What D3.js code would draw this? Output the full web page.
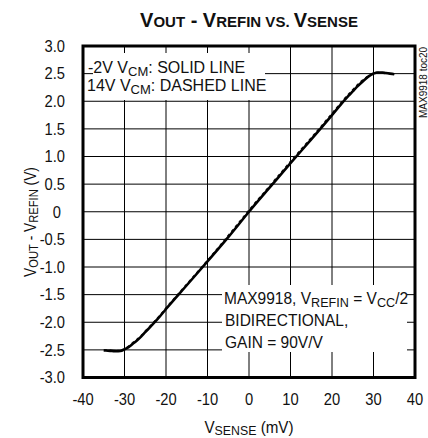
<!DOCTYPE html>
<html><head><meta charset="utf-8">
<script src="https://cdn.jsdelivr.net/npm/d3@7"></script>
<style>
html,body{margin:0;padding:0;background:#fff;}
svg text{font-family:"Liberation Sans",Arial,sans-serif;fill:#111;}
</style></head>
<body><svg id="c" width="428" height="438"></svg>
<script>
// ---- data ----
const xTicks = [-40,-30,-20,-10,0,10,20,30,40];
const yTicks = [3.0,2.5,2.0,1.5,1.0,0.5,0,-0.5,-1.0,-1.5,-2.0,-2.5,-3.0];
const yTickLabels = ["3.0","2.5","2.0","1.5","1.0","0.5","0","-0.5","-1.0","-1.5","-2.0","-2.5","-3.0"];
const vsense = [-35,-34,-33,-32,-31,-30,-29,-28,-27,-26,-25,-24,-22,-20,-15,-10,-5,0,5,10,15,20,22,24,25,26,27,28,29,30,31,32,33,34,35];
const solidM2V = [-2.51,-2.515,-2.52,-2.525,-2.52,-2.49,-2.45,-2.39,-2.33,-2.26,-2.18,-2.10,-1.94,-1.76,-1.33,-0.90,-0.46,0.0,0.44,0.88,1.31,1.75,1.93,2.10,2.18,2.26,2.33,2.40,2.46,2.50,2.52,2.52,2.51,2.50,2.49];
const dashed14V = [-2.50,-2.505,-2.51,-2.515,-2.51,-2.48,-2.43,-2.37,-2.31,-2.24,-2.16,-2.08,-1.92,-1.74,-1.31,-0.88,-0.43,0.03,0.47,0.91,1.34,1.78,1.96,2.13,2.21,2.29,2.36,2.42,2.47,2.51,2.52,2.52,2.51,2.50,2.49];

const svg = d3.select("#c");
const L=83, R=415, T=46, B=377.5;
const x = d3.scaleLinear().domain([-40,40]).range([L,R]);
const y = d3.scaleLinear().domain([-3,3]).range([B,T]);

// grid
const g = svg.append("g");
g.selectAll(".vg").data(xTicks.slice(1,-1)).enter().append("line")
  .attr("x1",d=>x(d)).attr("x2",d=>x(d)).attr("y1",T).attr("y2",B)
  .attr("stroke","#000").attr("stroke-width",1);
g.selectAll(".hg").data(yTicks.slice(1,-1)).enter().append("line")
  .attr("y1",d=>y(d)).attr("y2",d=>y(d)).attr("x1",L).attr("x2",R)
  .attr("stroke","#000").attr("stroke-width",1);

// curves
const line = d3.line().x((d,i)=>x(vsense[i])).y(d=>y(d)).curve(d3.curveMonotoneX);
svg.append("path").attr("d",line(dashed14V)).attr("fill","none").attr("stroke","#111")
  .attr("stroke-width",1.5).attr("stroke-dasharray","3,3");
svg.append("path").attr("d",line(solidM2V)).attr("fill","none").attr("stroke","#000")
  .attr("stroke-width",2.6);

// legend masks
svg.append("rect").attr("x",L+10).attr("y",T+7).attr("width",265-(L+10)).attr("height",100-(T+7)).attr("fill","#fff");
svg.append("rect").attr("x",222).attr("y",285).attr("width",407-222).attr("height",352-285).attr("fill","#fff");

// frame
svg.append("rect").attr("x",L).attr("y",T).attr("width",R-L).attr("height",B-T)
  .attr("fill","none").attr("stroke","#000").attr("stroke-width",3);

function rich(tr,parts,fs,subfs,dy,anchor){
  const t=svg.append("text").attr("transform",tr).attr("font-size",fs).attr("text-anchor",anchor||"start");
  let prev=false;
  parts.forEach(p=>{
    const ts=t.append("tspan").text(p[0]);
    const isSub=!!p[1];
    ts.attr("font-size",isSub?subfs:fs);
    if(isSub && !prev) ts.attr("dy",dy);
    if(!isSub && prev) ts.attr("dy",-dy);
    prev=isSub;
  });
  return t;
}
// legend text
rich("translate(88,73)",[["-2V V"],["CM",1],[": SOLID LINE"]],16,13,2.5);
rich("translate(87,91)",[["14V V"],["CM",1],[": DASHED LINE"]],16,13,2.5);
rich("translate(224,304) scale(0.97,1)",[["MAX9918, V"],["REFIN",1],[" = V"],["CC",1],["/2"]],16,13,2.5);
svg.append("text").attr("transform","translate(225,326) scale(0.97,1)").attr("font-size",16).text("BIDIRECTIONAL,");
svg.append("text").attr("transform","translate(225,348) scale(0.97,1)").attr("font-size",16).text("GAIN = 90V/V");

// tick labels
svg.selectAll(".xl").data(xTicks).enter().append("text")
  .attr("transform",d=>`translate(${x(d)},405) scale(0.92,1)`).attr("text-anchor","middle").attr("font-size",16).text(d=>d);
svg.selectAll(".yl").data(yTicks).enter().append("text")
  .attr("transform",d=>`translate(${d===0?61:65},${y(d)+5.8}) scale(0.92,1)`).attr("text-anchor","end").attr("font-size",16).text((d,i)=>yTickLabels[i]);

// axis titles
rich("translate(249,433) scale(0.95,1)",[["V"],["SENSE",1],[" (mV)"]],16,13,1.5,"middle");
rich("translate(36,222) rotate(-90) scale(0.86,1)",[["V"],["OUT",1],[" - V"],["REFIN",1],[" (V)"]],16,13,1.5,"middle");

// title
const tt = svg.append("text").attr("x",249).attr("y",27.3).attr("text-anchor","middle").attr("font-weight","bold");
[["V",0],["OUT",1],[" - V",0],["REFIN",1],[" VS. ",1],["V",0],["SENSE",1]].forEach(p=>{
  tt.append("tspan").text(p[0]).attr("font-size",p[1]?15:20);
});

// side note
svg.append("text").attr("transform","translate(426.5,118) rotate(-90)").attr("font-size",10).text("MAX9918 toc20");
</script></body></html>
